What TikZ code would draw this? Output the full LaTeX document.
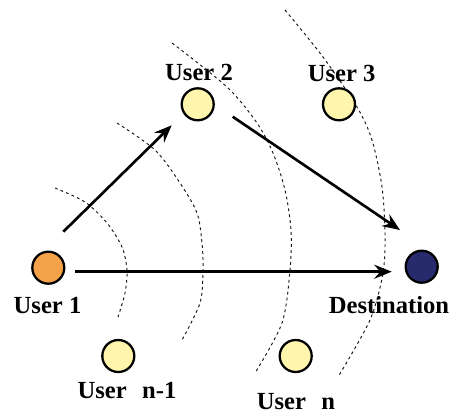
\documentclass[tikz,border=0pt]{standalone}
\usepackage{fontspec}
\setmainfont{Liberation Serif}
\usetikzlibrary{arrows.meta,calc}

\begin{document}
\begin{tikzpicture}[x=0.02cm, y=-0.02cm, >={Stealth[length=10pt,width=8pt,inset=3.5pt]}]
    \definecolor{useryellow}{RGB}{255,245,172}
    \definecolor{sourceorange}{RGB}{244,162,74}
    \definecolor{destnavy}{RGB}{40,42,110}
    \tikzset{
      user/.style={circle, draw, line width=1.3pt, minimum size=0.64cm, inner sep=0pt},
      tag/.style={anchor=base, inner sep=0pt, font=\fontsize{14}{15}\selectfont\bfseries},
      link/.style={->, line width=1.5pt},
      ring/.style={black!90, line width=0.55pt, dash pattern=on 1.6pt off 1.8pt}
    }
    \useasboundingbox (0,0) rectangle (453,413);

    % dashed range rings, growing away from user 1
    \draw[ring] plot[smooth] coordinates {(55,188) (85,202) (107,223) (122,247) (127,270) (125,293) (118,317)};
    \draw[ring] plot[smooth] coordinates {(117,123) (155,150) (180,183) (197,213) (202,243) (203,270) (200,303) (182,340)};
    \draw[ring] plot[smooth] coordinates {(172,43) (227,87) (257,123) (273,153) (285,190) (291,230) (290,270) (282,323) (255,373)};
    \draw[ring] plot[smooth] coordinates {(285,10) (323,57) (357,107) (372,140) (382,187) (385,233) (383,273) (370,320) (338,377)};

    % users and destination
    \node[user, fill=sourceorange] (user1) at (48.3,267.7) {};
    \node[user, fill=useryellow] (user2) at (197.7,104.3) {};
    \node[user, fill=useryellow] (user3) at (339,104.3) {};
    \node[user, fill=useryellow] (usernm) at (118.3,356) {};
    \node[user, fill=useryellow] (usern) at (295.7,356) {};
    \node[user, fill=destnavy] (dest) at (421.7,266.7) {};

    % labels
    \node[tag] (tag1) at (47.5,313.3) {User 1};
    \node[tag] (tag2) at (199,80) {User 2};
    \node[tag] (tag3) at (341.7,81.7) {User 3};
    \node[tag] (tagnm) at (127,398.3) {User\hspace{0.63em}n-1};
    \node[tag] (tagn) at (296,409) {User\hspace{0.63em}n};
    \node[tag] (tagd) at (389,313.3) {Destination};

    % relay path and direct path
    \draw[link] ($(user1)+(15,-36)$) -- ($(user2)+(-26,21)$);
    \draw[link] ($(user2)+(35,12.4)$) -- ($(dest)+(-21.7,-36.7)$);
    \draw[link] ($(user1)+(27,4)$) -- ($(dest)+(-30,5)$);
\end{tikzpicture}
\end{document}
